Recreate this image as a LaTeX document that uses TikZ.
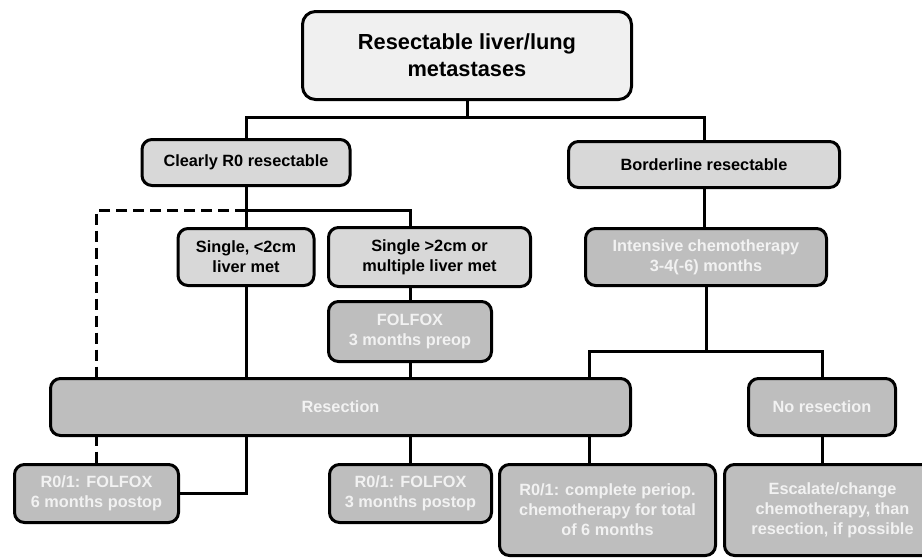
\documentclass[tikz,border=0pt]{standalone}
\usepackage{fontspec}
\setmainfont{Liberation Sans}
\usetikzlibrary{backgrounds}
\definecolor{topgray}{RGB}{240,240,240}
\definecolor{lightgray}{RGB}{216,216,216}
\definecolor{darkgray}{RGB}{190,190,190}
\definecolor{paletext}{RGB}{242,242,242}
\begin{document}
\begin{tikzpicture}[x=1pt,y=-1pt,line width=3pt,
	box/.style={draw,line width=3pt,rounded corners=10pt,align=center,inner sep=0pt,font=\bfseries\fontsize{16.3}{20}\selectfont},
	topbox/.style={box,fill=topgray,rounded corners=13pt,font=\bfseries\fontsize{21.8}{27}\selectfont},
	lightbox/.style={box,fill=lightgray,text=black},
	darkbox/.style={box,fill=darkgray,text=paletext},
	link/.style={draw,line width=3pt}]
	\useasboundingbox (0,0) rectangle (922,558);
	\clip (0,0) rectangle (922,558);

	% draw top box
	\node (top) at (467,55.5) [topbox,minimum width=329pt,minimum height=88pt] {Resectable liver/lung\\metastases};

	% draw second level
	\node (cr0) at (246,162.5) [lightbox,minimum width=208pt,minimum height=46pt] {Clearly R0 resectable};
	\node (bdr) at (704,164.5) [lightbox,minimum width=271pt,minimum height=46pt] {Borderline resectable};

	% draw third level
	\node (sgl) at (246,257) [lightbox,minimum width=136pt,minimum height=57pt] {Single, <2cm\\liver met};
	\node (mul) at (429.5,257) [lightbox,minimum width=202pt,minimum height=59pt] {Single >2cm or\\multiple liver met};
	\node (chemo) at (706,257) [darkbox,minimum width=241pt,minimum height=57pt] {Intensive chemotherapy\\3-4(-6) months};
	\node (folfox) at (410,331.5) [darkbox,minimum width=163pt,minimum height=60pt] {FOLFOX\\3 months preop};

	% draw resection row
	\node (res) at (340.5,407) [darkbox,minimum width=580pt,minimum height=57pt] {Resection};
	\node (nores) at (822,407) [darkbox,minimum width=147pt,minimum height=57pt] {No resection};

	% draw bottom row
	\node (post6) at (96.5,493.5) [darkbox,minimum width=164pt,minimum height=58pt] {R0/1: FOLFOX\\6 months postop};
	\node (post3) at (410.5,493.5) [darkbox,minimum width=162pt,minimum height=58pt] {R0/1: FOLFOX\\3 months postop};
	\node (peri) at (607.5,510) [darkbox,minimum width=216pt,minimum height=91pt] {R0/1: complete periop.\\chemotherapy for total\\of 6 months};
	\node (esc) at (832.5,510) [darkbox,minimum width=216pt,minimum height=91pt] {Escalate/change\\chemotherapy, than\\resection, if possible};

	\begin{pgfonlayer}{background}
		% draw lines from top box
		\draw[link] (top.south) -- ++(0,16) coordinate (j0);
		\draw[link] (j0) -| (cr0.north);
		\draw[link] (j0) -| (bdr.north);

		% draw lines below clearly resectable
		\draw[link] (cr0.south) -- ++(0,23) coordinate (j1);
		\draw[link] (j1) -- (sgl.north);
		\draw[link] (j1) -| (mul.north -| folfox.north);
		\draw[link,dash pattern=on 11pt off 6pt] (j1) -| (post6.north);
		\draw[link] (mul.south -| folfox.north) -- (folfox.north);
		\draw[link] (folfox.south) -- (folfox |- res.north);
		\draw[link] (sgl.south) -- (sgl |- res.north);

		% draw lines below resection
		\draw[link] (res.south -| sgl) |- (post6.east);
		\draw[link] (post3 |- res.south) -- (post3.north);

		% draw lines below borderline resectable
		\draw[link] (bdr.south) -- (bdr |- chemo.north);
		\draw[link] (chemo.south) -- ++(0,64) coordinate (j2);
		\coordinate (rsplit) at (589,351);
		\draw[link] (j2) -- (rsplit) -- (rsplit |- res.north);
		\draw[link] (j2) -| (nores.north);
		\draw[link] (rsplit |- res.south) -- (rsplit |- peri.north);
		\draw[link] (nores.south) -- (nores |- esc.north);
	\end{pgfonlayer}
\end{tikzpicture}
\end{document}
